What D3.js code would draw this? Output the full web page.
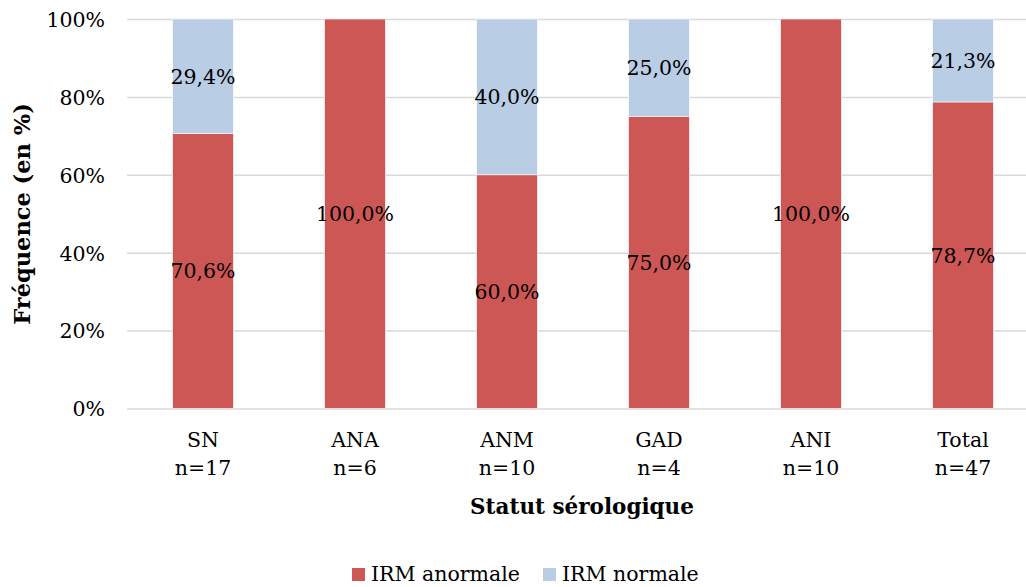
<!DOCTYPE html>
<html lang="fr">
<head>
	<meta charset="utf-8">
	<title>IRM selon le statut sérologique</title>
	<style type="text/css">
		body { margin: 0; background: #fff; }
		svg text { font-family: "DejaVu Serif", serif; fill: #000; }
	</style>
</head>
<body>
	<svg id="chart" width="1026" height="587"></svg>

	<script src="https://cdnjs.cloudflare.com/ajax/libs/d3/7.8.5/d3.min.js"></script>
	<script type="text/javascript">
		// data
		var categories = ["SN", "ANA", "ANM", "GAD", "ANI", "Total"];
		var effectifs = [17, 6, 10, 4, 10, 47];
		var anormale = [70.6, 100.0, 60.0, 75.0, 100.0, 78.7];
		var normale = [29.4, 0, 40.0, 25.0, 0, 21.3];
		var yTicks = [0, 20, 40, 60, 80, 100];
		var seriesNames = ["IRM anormale", "IRM normale"];
		var seriesColors = ["#cd5755", "#b9cde5"];

		var svg = d3.select("#chart");
		var fmt = function (v) { return v.toFixed(1).replace(".", ",") + "%"; };

		var x = d3.scaleBand()
			.domain(categories)
			.range([127, 127 + 6 * 152])
			.paddingInner(0.6)
			.paddingOuter(0.3);

		var y = d3.scaleLinear()
			.domain([0, 100])
			.range([408.5, 19]);

		// gridlines + y tick labels
		var yAxis = d3.axisLeft(y)
			.tickValues(yTicks)
			.tickSize(-(1026 - 127))
			.tickPadding(22)
			.tickFormat(function (d) { return d + "%"; });

		var gy = svg.append("g")
			.attr("transform", "translate(127,0)")
			.call(yAxis);
		gy.select(".domain").remove();
		gy.selectAll(".tick line")
			.attr("stroke", "#d9d9d9")
			.attr("stroke-width", 1.5);
		gy.selectAll(".tick text")
			.attr("font-size", 20.5)
			.attr("font-family", "DejaVu Serif")
			.attr("dy", "0.36em");

		// stacked bars
		var rows = categories.map(function (c, i) {
			return { cat: c, n: effectifs[i], vals: [anormale[i], normale[i]] };
		});

		rows.forEach(function (r) {
			var base = 0;
			r.vals.forEach(function (v, k) {
				if (v > 0) {
					svg.append("rect")
						.attr("x", x(r.cat))
						.attr("width", x.bandwidth())
						.attr("y", y(base + v))
						.attr("height", y(base) - y(base + v))
						.attr("fill", seriesColors[k])
						.attr("stroke", "#fff")
						.attr("stroke-width", 0.6);

					svg.append("text")
						.attr("x", x(r.cat) + x.bandwidth() / 2)
						.attr("y", y(base + v / 2))
						.attr("dy", "0.36em")
						.attr("text-anchor", "middle")
						.attr("font-size", 20.5)
						.text(fmt(v));
				}
				base += v;
			});
		});

		// category labels
		var gx = svg.append("g");
		rows.forEach(function (r) {
			var t = gx.append("text")
				.attr("text-anchor", "middle")
				.attr("font-size", 20.5)
				.attr("x", x(r.cat) + x.bandwidth() / 2);
			t.append("tspan").attr("x", x(r.cat) + x.bandwidth() / 2).attr("y", 447).text(r.cat);
			t.append("tspan").attr("x", x(r.cat) + x.bandwidth() / 2).attr("y", 475).text("n=" + r.n);
		});

		// axis titles
		svg.append("text")
			.attr("x", 582)
			.attr("y", 514)
			.attr("text-anchor", "middle")
			.attr("font-size", 21.5)
			.attr("font-weight", "bold")
			.text("Statut sérologique");

		svg.append("text")
			.attr("transform", "translate(30,214) rotate(-90)")
			.attr("text-anchor", "middle")
			.attr("font-size", 22.5)
			.attr("font-weight", "bold")
			.text("Fréquence (en %)");

		// legend
		var legendX = [352, 543];
		seriesNames.forEach(function (name, k) {
			svg.append("rect")
				.attr("x", legendX[k])
				.attr("y", 568)
				.attr("width", 13)
				.attr("height", 13)
				.attr("fill", seriesColors[k]);
			svg.append("text")
				.attr("x", legendX[k] + 19)
				.attr("y", 581)
				.attr("font-size", 20.5)
				.text(name);
		});
	</script>
</body>
</html>
